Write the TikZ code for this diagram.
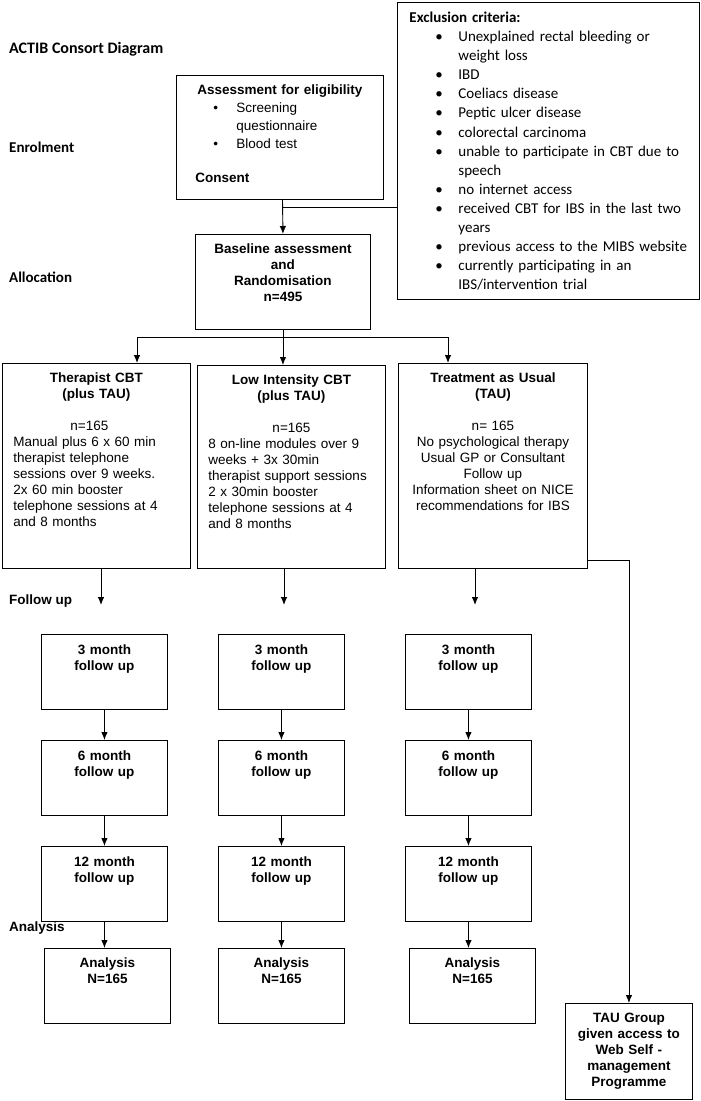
\documentclass[tikz,border=0pt]{standalone}
\usepackage{fontspec}
\setmainfont{Liberation Sans}
\newfontfamily\calib{Carlito}
\usetikzlibrary{arrows.meta}

\newcommand{\exitem}[1]{\hspace*{26pt}\makebox[23pt][l]{\textbullet}\mbox{#1}}
\newcommand{\exmore}[1]{\hspace*{49pt}\mbox{#1}}
\newcommand{\asitem}[1]{\hspace*{31pt}\makebox[23pt][l]{\textbullet}\mbox{#1}}
\newcommand{\asmore}[1]{\hspace*{54pt}\mbox{#1}}

\tikzset{
  box/.style={draw, line width=0.9pt, anchor=north west, inner ysep=0pt, inner xsep=6pt},
  arr/.style={line width=0.9pt, -{Latex[length=8pt,width=6.5pt]}},
  conn/.style={line width=0.9pt},
  stage/.style={anchor=west, inner sep=0pt, font=\fontsize{15}{18}\calib\bfseries},
  sidelab/.style={anchor=west, inner sep=0pt, font=\fontsize{13.5}{16}\bfseries},
  armbox/.style={box, inner xsep=11pt, text width=166pt, text height=19pt, font=\fontsize{13.5}{16}\selectfont},
  fubox/.style={box, align=center, text width=114pt, text height=20pt, text depth=55pt, font=\fontsize{13.5}{16}\bfseries},
}

\begin{document}
\begin{tikzpicture}[x=1pt, y=-1pt]
  \useasboundingbox (0,0) rectangle (701,1101);

  % stage labels
  \node[stage, font=\fontsize{16}{18}\calib\bfseries] (title) at (9,49) {ACTIB Consort Diagram};
  \node[stage] (enrol) at (9,147) {Enrolment};
  \node[stage] (alloc) at (9,277) {Allocation};
  \node[sidelab] (follow) at (9,601) {Follow up};
  \node[sidelab] (analys) at (9,928) {Analysis};

  % enrolment
  \node[box, align=left, text width=195pt, text height=19pt, text depth=105pt,
        font=\fontsize{13.5}{18}\selectfont] (assess) at (176,75)
    {\makebox[\linewidth]{\bfseries Assessment for eligibility}\\
     \asitem{Screening}\\ \asmore{questionnaire}\\ \asitem{Blood test}\\[16pt]
     \hspace*{13pt}\textbf{Consent}};

  \node[box, inner xsep=12pt, align=left, text width=278pt, text height=20pt, text depth=277pt,
        font=\fontsize{15}{19.1}\calib] (excl) at (397,2)
    {\textbf{Exclusion criteria:}\\
     \exitem{Unexplained rectal bleeding or}\\ \exmore{weight loss}\\
     \exitem{IBD}\\ \exitem{Coeliacs disease}\\ \exitem{Peptic ulcer disease}\\
     \exitem{colorectal carcinoma}\\
     \exitem{unable to participate in CBT due to}\\ \exmore{speech}\\
     \exitem{no internet access}\\
     \exitem{received CBT for IBS in the last two}\\ \exmore{years}\\
     \exitem{previous access to the MIBS website}\\
     \exitem{currently participating in an}\\ \exmore{IBS/intervention trial}};

  % allocation
  \node[box, align=center, text width=163pt, text height=19pt, text depth=76pt,
        font=\fontsize{13.5}{16}\bfseries] (base) at (195,234)
    {Baseline assessment\\and\\Randomisation\\n=495};

  \node[armbox, align=left, text depth=186pt] (ther) at (2,363)
    {\makebox[\linewidth]{\bfseries Therapist CBT}\\
     \makebox[\linewidth]{\bfseries (plus TAU)}\\[16pt]
     \makebox[\linewidth]{n=165\hspace*{14pt}}\\
     Manual plus 6 x 60 min\\ therapist telephone\\ sessions over 9 weeks.\\
     2x 60 min booster\\ telephone sessions at 4\\ and 8 months};
  \node[armbox, align=left, text depth=184pt] (lowi) at (197,365)
    {\makebox[\linewidth]{\bfseries Low Intensity CBT}\\
     \makebox[\linewidth]{\bfseries (plus TAU)}\\[16pt]
     \makebox[\linewidth]{n=165}\\
     8 on-line modules over 9\\ weeks + 3x 30min\\ therapist support sessions\\
     2 x 30min booster\\ telephone sessions at 4\\ and 8 months};
  \node[armbox, align=center, text width=167pt, text depth=186pt] (tau) at (398,363)
    {\textbf{Treatment as Usual}\\ \textbf{(TAU)}\\[16pt]
     n= 165\\ No psychological therapy\\ Usual GP or Consultant\\ Follow up\\
     Information sheet on NICE\\ recommendations for IBS};

  \node[box, align=center, text width=115pt, text height=19pt, text depth=77pt,
        font=\fontsize{13.5}{16}\bfseries] (tauweb) at (565,1003)
    {TAU Group\\given access to\\Web Self -\\management\\Programme};

  % follow up columns
  \foreach \c/\x/\ax in {l/41/44, m/218/218, r/405/409} {
    \node[fubox] (\c3m) at (\x,634) {3 month\\follow up};
    \node[fubox] (\c6m) at (\x,740) {6 month\\follow up};
    \node[fubox] (\c12m) at (\x,846) {12 month\\follow up};
    \node[fubox, text height=19pt, text depth=56pt] (an\c) at (\ax,948) {Analysis\\N=165};
    \draw[arr] (\c3m) -- (\c6m);
    \draw[arr] (\c6m) -- (\c12m);
    \draw[arr] (\c12m.south) -- (\c12m.south |- an\c.north);
  }

  % connectors
  \coordinate (exj) at (282.5,207);
  \draw[arr] (exj |- assess.south) -- (base.north);
  \draw[conn] (exj) -- (exj -| excl.west);

  \coordinate (dl) at (137,337);
  \coordinate (dr) at (448,337);
  \draw[conn] (dl) -- (dr);
  \draw[arr] (dl) -- (dl |- ther.north);
  \draw[arr] (dr) -- (dr |- tau.north);
  \draw[arr] (base.south) -- (base.south |- lowi.north);

  \coordinate (fl) at (101,605);
  \coordinate (fm) at (284,605);
  \coordinate (fr) at (475,605);
  \draw[arr] (fl |- ther.south) -- (fl);
  \draw[arr] (fm |- lowi.south) -- (fm);
  \draw[arr] (fr |- tau.south) -- (fr);

  \draw[arr] (tau.south east) ++(0,-8) -| (tauweb.north);
\end{tikzpicture}
\end{document}
